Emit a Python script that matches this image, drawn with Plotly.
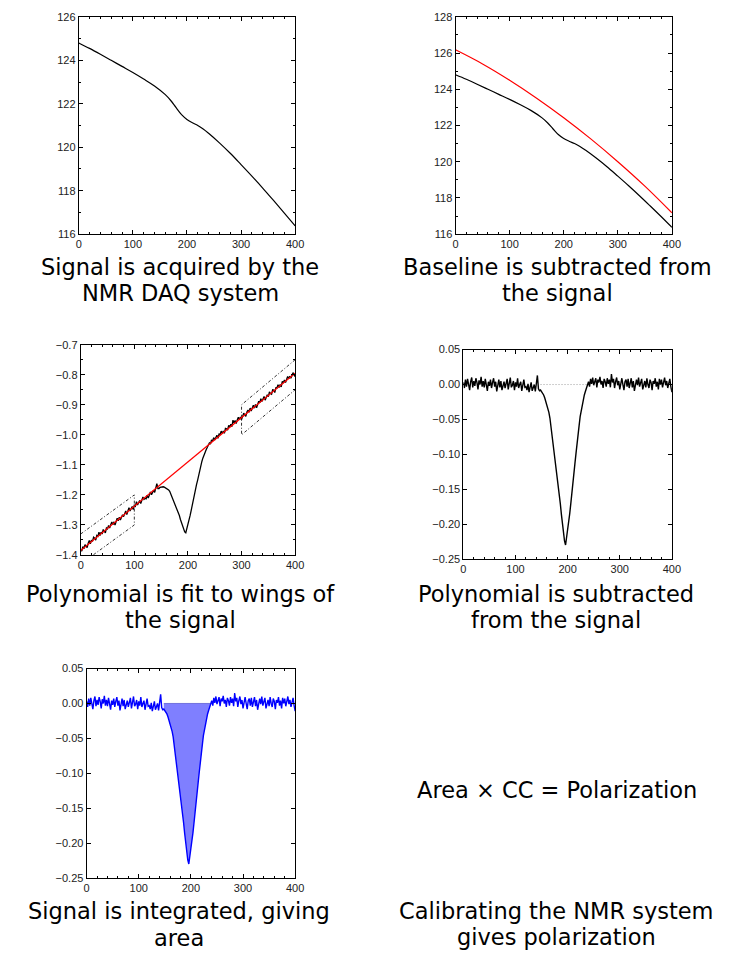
import numpy as np
import plotly.graph_objects as go

W, H = 736, 956

# ---------------- data ----------------
# Panel 1/2: raw signal (black)
SIG_X = [0, 20, 40, 60, 80, 100, 120, 140, 160, 170, 180, 190, 200, 210, 220, 230, 240,
         260, 280, 300, 320, 340, 360, 380, 400]
SIG_Y = [124.80, 124.55, 124.28, 124.00, 123.72, 123.44, 123.14, 122.82, 122.42, 122.15,
         121.82, 121.50, 121.28, 121.13, 121.00, 120.84, 120.64, 120.20, 119.72, 119.20,
         118.67, 118.12, 117.55, 116.97, 116.38]

# Panel 2: baseline (red)
BASE_X = [0, 50, 100, 150, 200, 250, 300, 350, 400]
BASE_Y = [126.18, 125.40, 124.50, 123.51, 122.43, 121.26, 120.00, 118.65, 117.18]

# Panels 3-5: baseline-subtracted signal, in units of 0.001, x = 0, 2, ..., 400
RES_X = list(range(0, 401, 2))
RES_MILLI = [
    3, -5, 7, -3, 8, 1, -8, 4, 10, -4, 5, -2, 9, 3, -7, 6, 0, 11, -3, 5,
    -4, 8, 1, -9, 4, -2, 7, -5, 3, 9, -3, 4, -10, 1, 7, -4, 5, -8, 0, 4,
    -5, 3, 8, -7, 1, 10, -4, -1, 5, -8, 3, -3, 9, -5, 0, 4, -9, 1, 7, -4,
    -3, -8, 1, -11, -4, 3, -9, -5, 0, -10, 4, 13, -6, -9,
    -8, -10, -12, -15, -19, -24, -29, -34, -40, -48, -60, -74, -85, -94, -105, -118,
    -128, -140, -155, -171, -186, -200, -216, -224, -230, -219, -215, -198, -185, -171,
    -154, -139, -126, -113, -99, -88, -73, -59, -46, -37, -28, -20, -15, -10, -5, -2,
    4, -3, 8, 1, 10, -1, 5, 9, -4, 7, 3, 11, 0, 5, -5, 8, 4, -3, 9, 1,
    7, -4, 15, 3, 8, -5, 4, 10, -1, 5, -7, 3, 9, 0, -8, 4, 7, -3, 8, -5,
    1, 9, -4, 5, -9, 3, 7, -1, 10, -3, 4, 8, -7, 1, 5, -4, 9, 0, -5, 7,
    3, -8, 5, 1, 9, -3, 4, -7, 8, 0, 7, -4, 3, 10, -1, 5, -5, 4, 8, -3,
    -11,
]

# Panel 3: linear fit to the wings (red) and wing windows (dotted)
FIT_X = [0, 400]
FIT_Y = [-1.385, -0.795]
WIN_L_X = [0, 100, 100, 0]
WIN_L_Y = [-1.33, -1.20, -1.30, -1.43]
WIN_R_X = [400, 300, 300, 400]
WIN_R_Y = [-0.75, -0.90, -1.00, -0.85]

# Peak region (integration window)
PEAK_LO, PEAK_HI = 148, 238

X_TICKS = [0, 100, 200, 300, 400]

CAPTIONS = [
    ("Signal is acquired by the", 180, 264),
    ("NMR DAQ system", 180, 290.5),
    ("Baseline is subtracted from", 564, 264),
    ("the signal", 564, 290.5),
    ("Polynomial is fit to wings of", 180, 595),
    ("the signal", 180, 621.5),
    ("Polynomial is subtracted", 562, 595),
    ("from the signal", 562, 621.5),
    ("Signal is integrated, giving", 179, 917),
    ("area", 179, 943.5),
    ("Area × CC = Polarization", 563, 794),
    ("Calibrating the NMR system", 563, 916),
    ("gives polarization", 563, 942.5),
]

# ---------------- derived ----------------
res_x = np.array(RES_X, dtype=float)
res_y = np.array(RES_MILLI, dtype=float) / 1000.0
raw3_y = res_y + np.interp(res_x, FIT_X, FIT_Y)
mask = (res_x >= PEAK_LO) & (res_x <= PEAK_HI)

fig = go.Figure()

def px_dom_x(a, b):
    return [a / W, b / W]

def px_dom_y(top, bottom):
    return [1 - bottom / H, 1 - top / H]

panels = {
    1: (px_dom_x(77, 297), px_dom_y(11, 231), [116, 126], 2, 1, None),
    2: (px_dom_x(460, 680), px_dom_y(11, 231), [116, 128], 2, 1, None),
    3: (px_dom_x(79, 297), px_dom_y(343, 556), [-1.4, -0.7], 0.1, 0.05, ".1f"),
    4: (px_dom_x(468, 680), px_dom_y(348, 560), [-0.25, 0.05], 0.05, None, ".2f"),
    5: (px_dom_x(85, 297), px_dom_y(671, 883), [-0.25, 0.05], 0.05, None, ".2f"),
}

tickfont = dict(family="Liberation Sans, Arial, sans-serif", size=11, color="#222")
for i, (dx, dy, yr, ydt, ymin, yfmt) in panels.items():
    s = "" if i == 1 else str(i)
    xa = dict(domain=dx, range=[0, 400], tickvals=X_TICKS, ticks="inside", ticklen=4,
              tickcolor="black", showline=True, linecolor="black", linewidth=1,
              mirror="ticks", showgrid=False, zeroline=False, tickfont=tickfont,
              minor=dict(dtick=20, ticks="inside", ticklen=2, tickcolor="black", showgrid=False),
              anchor="y" + s, fixedrange=True)
    ya = dict(domain=dy, range=yr, dtick=ydt, tick0=0, ticks="inside", ticklen=4,
              tickcolor="black", showline=True, linecolor="black", linewidth=1,
              mirror="ticks", showgrid=False, zeroline=False, tickfont=tickfont,
              anchor="x" + s, fixedrange=True)
    if ymin:
        ya["minor"] = dict(dtick=ymin, ticks="inside", ticklen=2, tickcolor="black", showgrid=False)
    if yfmt:
        ya["tickformat"] = yfmt
    fig.layout["xaxis" + s] = xa
    fig.layout["yaxis" + s] = ya

# Panel 1
fig.add_trace(go.Scatter(x=SIG_X, y=SIG_Y, mode="lines", line=dict(color="black", width=1.2, shape="spline"),
                         xaxis="x", yaxis="y"))
# Panel 2
fig.add_trace(go.Scatter(x=SIG_X, y=SIG_Y, mode="lines", line=dict(color="black", width=1.2, shape="spline"),
                         xaxis="x2", yaxis="y2"))
fig.add_trace(go.Scatter(x=BASE_X, y=BASE_Y, mode="lines", line=dict(color="red", width=1.2, shape="spline"),
                         xaxis="x2", yaxis="y2"))
# Panel 3
win_line = dict(color="black", width=0.8, dash="3px,2px,1px,2px")
fig.add_trace(go.Scatter(x=WIN_L_X, y=WIN_L_Y, mode="lines", line=win_line, xaxis="x3", yaxis="y3"))
fig.add_trace(go.Scatter(x=WIN_R_X, y=WIN_R_Y, mode="lines", line=win_line, xaxis="x3", yaxis="y3"))
fig.add_trace(go.Scatter(x=res_x, y=raw3_y, mode="lines", line=dict(color="black", width=1.3),
                         xaxis="x3", yaxis="y3"))
fig.add_trace(go.Scatter(x=FIT_X, y=FIT_Y, mode="lines", line=dict(color="red", width=1.2),
                         xaxis="x3", yaxis="y3"))
# Panel 4
fig.add_trace(go.Scatter(x=[PEAK_LO, PEAK_HI], y=[0, 0], mode="lines",
                         line=dict(color="#888", width=0.8, dash="1px,2px"), xaxis="x4", yaxis="y4"))
fig.add_trace(go.Scatter(x=res_x, y=res_y, mode="lines", line=dict(color="black", width=1.4),
                         xaxis="x4", yaxis="y4"))
# Panel 5
fig.add_trace(go.Scatter(x=res_x[mask], y=res_y[mask], mode="lines", fill="tozeroy",
                         fillcolor="rgba(0,0,255,0.5)", line=dict(width=0),
                         xaxis="x5", yaxis="y5"))
fig.add_trace(go.Scatter(x=[PEAK_LO, PEAK_HI], y=[0, 0], mode="lines",
                         line=dict(color="rgba(60,60,200,0.6)", width=1), xaxis="x5", yaxis="y5"))
fig.add_trace(go.Scatter(x=res_x, y=res_y, mode="lines", line=dict(color="blue", width=1.4),
                         xaxis="x5", yaxis="y5"))

for text, cx, cy in CAPTIONS:
    fig.add_annotation(text=text, x=cx / W, y=1 - cy / H, xref="paper", yref="paper",
                       xanchor="center", yanchor="middle", showarrow=False, borderpad=0,
                       font=dict(family="DejaVu Sans", size=22.5, color="black"))

fig.update_layout(width=W, height=H, margin=dict(l=0, r=0, t=0, b=0),
                  paper_bgcolor="white", plot_bgcolor="white", showlegend=False)

fig.write_html("out.html", config={"displayModeBar": False})
